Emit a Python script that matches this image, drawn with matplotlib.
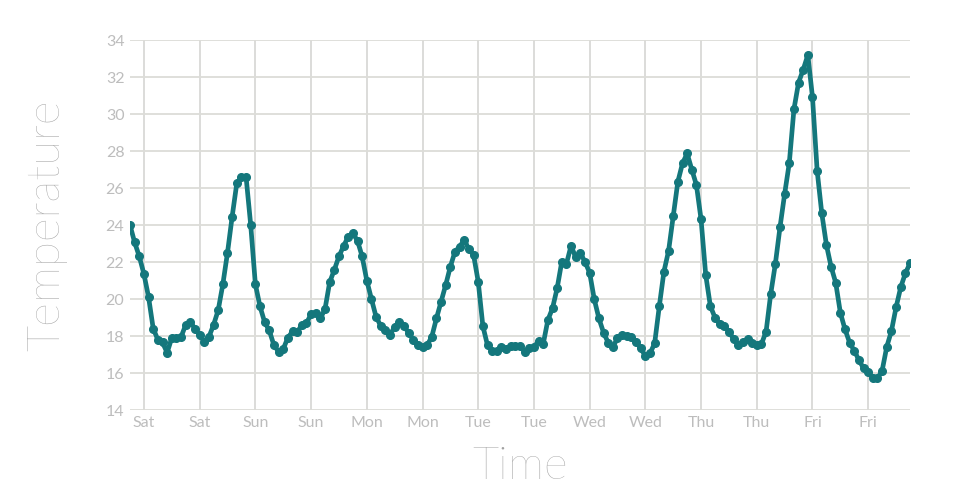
import matplotlib
matplotlib.use("Agg")
import matplotlib.pyplot as plt
from matplotlib import font_manager

# Hourly readings, starting 3 hours before the first "Sat" tick
start_hour = -3
temps = [
    24.0, 23.06, 22.3,
    21.35, 20.1, 18.4, 17.8, 17.65, 17.1, 17.9, 17.9, 17.95, 18.6, 18.75, 18.4,
    18.05, 17.7, 17.95, 18.6, 19.4, 20.8, 22.5, 24.45, 26.25, 26.6, 26.6, 24.0,
    20.8, 19.6, 18.75, 18.3, 17.5, 17.15, 17.3, 17.9, 18.25, 18.2, 18.6, 18.7,
    19.17, 19.26, 18.95, 19.45, 20.9, 21.57, 22.3, 22.86, 23.37, 23.55, 23.15, 22.3,
    21.0, 20.0, 19.04, 18.55, 18.3, 18.05, 18.5, 18.77, 18.54, 18.18, 17.8, 17.5,
    17.4, 17.5, 17.96, 18.95, 19.85, 20.76, 21.75, 22.56, 22.83, 23.2, 22.68, 22.38,
    20.94, 18.54, 17.5, 17.2, 17.2, 17.38, 17.3, 17.47, 17.47, 17.47, 17.15, 17.33,
    17.38, 17.75, 17.57, 18.86, 19.5, 20.58, 22.02, 21.9, 22.88, 22.25, 22.5, 22.0,
    21.42, 19.98, 18.95, 18.18, 17.64, 17.42, 17.87, 18.05, 18.02, 17.93, 17.7, 17.33,
    16.92, 17.06, 17.6, 19.6, 21.48, 22.6, 24.49, 26.34, 27.33, 27.87, 27.0, 26.16,
    24.3, 21.3, 19.62, 18.99, 18.65, 18.54, 18.23, 17.84, 17.51, 17.69, 17.82, 17.6,
    17.51, 17.57, 18.23, 20.27, 21.9, 23.88, 25.68, 27.35, 30.25, 31.7, 32.4, 33.19,
    30.9, 26.94, 24.63, 22.92, 21.75, 20.88, 19.26, 18.36, 17.64, 17.2, 16.7, 16.25,
    16.07, 15.71, 15.71, 16.13, 17.42, 18.27, 19.55, 20.63, 21.39, 21.93,
]
hours = list(range(start_hour, start_hour + len(temps)))

tick_hours = list(range(0, 157, 12))
tick_labels = ["Sat", "Sat", "Sun", "Sun", "Mon", "Mon", "Tue", "Tue",
               "Wed", "Wed", "Thu", "Thu", "Fri", "Fri"]
y_ticks = list(range(14, 35, 2))

installed = {f.name for f in font_manager.fontManager.ttflist}
family = "Lato" if "Lato" in installed else "DejaVu Sans"

fig = plt.figure(figsize=(9.6, 5.0), dpi=100)
ax = fig.add_axes([130 / 960, 90 / 500, 780 / 960, 370 / 500])

line_color = "#14777c"
ax.plot(hours, temps, color=line_color, linewidth=3.4, marker="o",
        markersize=5.5, zorder=3, solid_joinstyle="round")

ax.set_xlim(start_hour, hours[-1])
ax.set_ylim(14, 34)
ax.set_xticks(tick_hours)
ax.set_xticklabels(tick_labels)
ax.set_yticks(y_ticks)
ax.set_yticklabels([str(v) for v in y_ticks])

ax.grid(axis="y", color="#dcdcd8", linewidth=1.3)
ax.grid(axis="x", color="#d2d2d0", linewidth=1.1)
ax.set_axisbelow(True)
for s in ax.spines.values():
    s.set_visible(False)

ax.tick_params(length=0, pad=4, labelsize=11.5)
for lab in ax.get_xticklabels() + ax.get_yticklabels():
    lab.set_family(family)
    lab.set_fontweight("normal")
    lab.set_color("#bdbdbd")

ax.set_xlabel("Time", fontsize=33, color="#a0a0a0", family=family,
              fontweight="light", labelpad=12)
ax.set_ylabel("Temperature", fontsize=33, color="#a0a0a0", family=family,
              fontweight="light", labelpad=28)

fig.savefig("out.png", dpi=100)
